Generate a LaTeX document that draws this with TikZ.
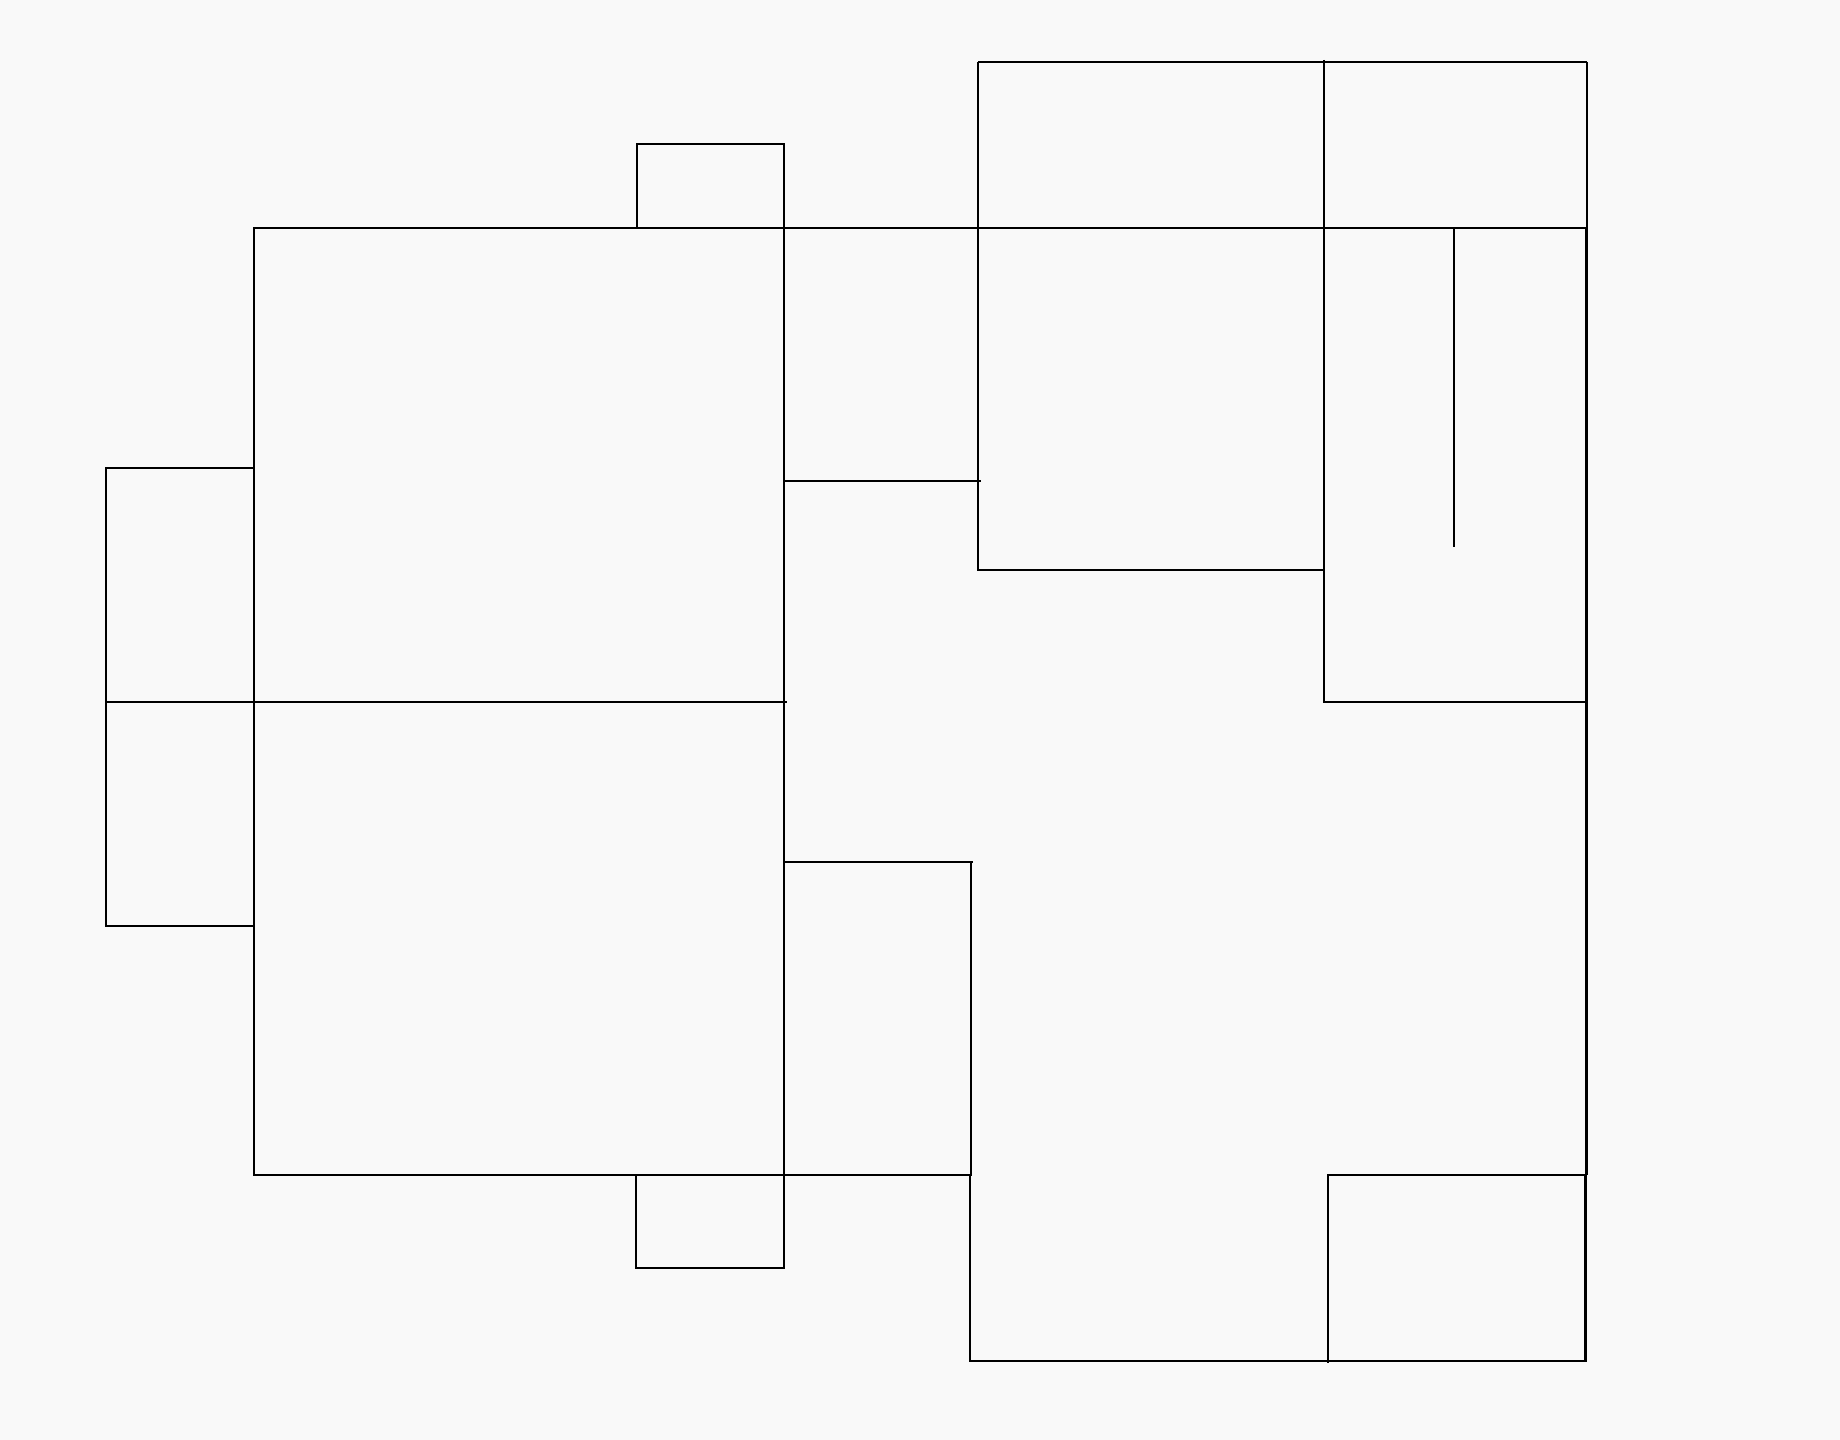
\documentclass[tikz,border=0pt]{standalone}
\definecolor{paper}{HTML}{F9F9F9}
\tikzset{wall/.style={black,line width=.027cm}}
\begin{document}
\begin{tikzpicture}[x=.01cm,y=-.01cm]
	\fill[paper] (0,0) rectangle(1840,1440);
	
	\draw[wall] (254,228) rectangle(784,702);
	\draw[wall] (254,702) rectangle(784,1175);
	\draw[wall] (105,468)--(254,468);
	\draw[wall] (106,468)--(106,926)--(254,926);
	\draw[wall] (105,702)--(787,702);
	\draw[wall] (637,228)--(637,144)--(785,144);
	\draw[wall] (784,144)--(784,228);
	\draw[wall] (636,1175)--(636,1269);
	\draw[wall] (636,1268)--(784,1268)--(784,1175);
	
	\draw[wall] (784,228)--(1587,228);
	\draw[wall] (784,481)--(981,481);
	\draw[wall] (978,62)--(978,571);
	\draw[wall] (978,570)--(1324,570);
	\draw[wall] (978,62)--(1587,62);
	\draw[wall] (1324,60)--(1324,702)--(1588,702);
	\draw[wall] (1587,62)--(1587,228);
	\draw[wall] (1586.5,228)--(1586.5,1175);
	\draw[wall] (1454,228)--(1454,547);
	
	\draw[wall] (784,862)--(973,862);
	\draw[wall] (971,862)--(971,1175);
	\draw[wall] (784,1175)--(972,1175);
	\draw[wall] (970,1175)--(970,1361)--(1587,1361);
	\draw[wall] (1327,1175)--(1586,1175);
	\draw[wall] (1328,1175)--(1328,1363);
	\draw[wall] (1585.5,1175)--(1585.5,1361);
\end{tikzpicture}
\end{document}
